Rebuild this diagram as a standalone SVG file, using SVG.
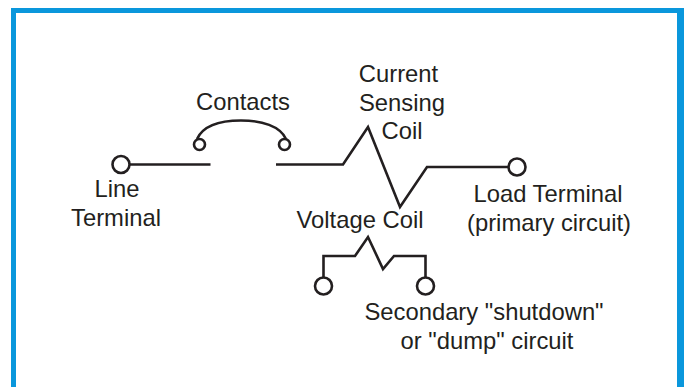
<svg xmlns="http://www.w3.org/2000/svg" width="684" height="387" viewBox="0 0 684 387">
<style>
text{font-family:"Liberation Sans",Arial,sans-serif;font-size:23.800px;fill:#231f20;text-anchor:middle}
.w{fill:none;stroke:#231f20;stroke-width:2.600;stroke-linejoin:miter}
.t{fill:#fff;stroke:#231f20;stroke-width:2.600}
</style>
<rect width="684" height="387" fill="#fff"/>
<path d="M13.500 387V10.500H680.500V387" fill="none" stroke="#0a97dc" stroke-width="5"/>
<rect x="677" y="8" width="7" height="379" fill="#0a97dc"/>
<g id="connectors">
<path class="w" d="M130 164.500H210.500"/>
<path class="w" d="M276 164.500H343L368 127L400 207L427 167H510"/>
<path class="w" d="M323.500 277V256H355L368 237L383 269L394 256H425.500V277"/>
<path class="w" d="M197 139C203 126 220 120.500 241 120.500C262 120.500 280 126 286 139"/>
</g>
<g id="line-terminal"><circle class="t" cx="121" cy="164.500" r="8.500"/><text x="117" y="197">Line</text><text x="116" y="226">Terminal</text></g>
<g id="contact-left"><circle class="t" cx="199.500" cy="144.500" r="5.500"/></g>
<g id="contact-right"><circle class="t" cx="284.500" cy="144.500" r="5.500"/></g>
<g id="contacts-label"><text x="243" y="110">Contacts</text></g>
<g id="current-coil"><text x="398.500" y="82">Current</text><text x="402" y="111">Sensing</text><text x="402" y="139">Coil</text></g>
<g id="load-terminal"><circle class="t" cx="517" cy="167" r="8.500"/><text x="548" y="202">Load Terminal</text><text x="549" y="231">(primary circuit)</text></g>
<g id="voltage-coil"><text x="360" y="228">Voltage Coil</text></g>
<g id="secondary-left"><circle class="t" cx="323.500" cy="286" r="8.500"/></g>
<g id="secondary-right"><circle class="t" cx="425.500" cy="286" r="8.500"/></g>
<g id="secondary-label"><text x="484" y="320">Secondary "shutdown"</text><text x="487" y="349">or "dump" circuit</text></g>
</svg>
